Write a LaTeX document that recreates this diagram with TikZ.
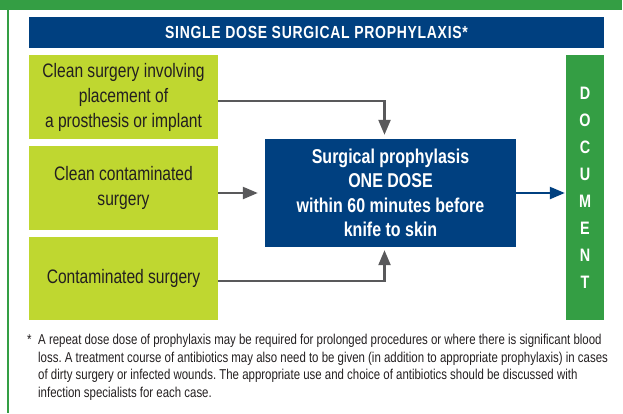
\documentclass[tikz,border=0pt]{standalone}
\usepackage{fontspec}
\setmainfont{Liberation Sans}[FakeStretch=0.8]
\newfontfamily\hdrfont{Liberation Sans}[FakeStretch=0.8, LetterSpace=4]
\usepackage{tikz}
\usetikzlibrary{arrows.meta}

\definecolor{frameGreen}{RGB}{52,158,68}
\definecolor{headBlue}{RGB}{0,64,128}
\definecolor{limeBox}{RGB}{191,215,48}
\definecolor{darkText}{RGB}{35,31,32}
\definecolor{arrowGrey}{RGB}{89,89,91}

\begin{document}
\begin{tikzpicture}[x=1pt, y=-1pt,
  header/.style={fill=headBlue, text=white, minimum width=575pt, minimum height=31pt, inner sep=0pt, font=\hdrfont\bfseries\fontsize{17.5}{20}\selectfont},
  caseBox/.style={fill=limeBox, text=darkText, minimum width=189pt, inner sep=0pt, align=center, font=\fontsize{19.5}{25}\selectfont},
  doseBox/.style={fill=headBlue, text=white, minimum width=251pt, minimum height=108pt, inner sep=0pt, align=center, font=\bfseries\fontsize{20}{24.5}\selectfont},
  docBar/.style={fill=frameGreen, text=white, minimum width=38pt, minimum height=265pt, inner sep=0pt, align=center, font=\bfseries\fontsize{18}{27}\selectfont},
  flowArrow/.style={draw=arrowGrey, line width=2.3pt, -{Triangle[length=15pt, width=12pt]}},
  outArrow/.style={draw=headBlue, line width=2.3pt, -{Triangle[length=15pt, width=12pt]}},
  noteText/.style={text=darkText, inner sep=0pt, align=left, font=\frenchspacing\fontsize{14.3}{17.5}\selectfont}
]
\useasboundingbox (0,0) rectangle (623,413);

\fill[frameGreen] (0,0) rectangle (622,9.5);
\fill[frameGreen] (6.5,0) rectangle (8.5,413);

\node[header] (head) at (316.5,32.5) {SINGLE DOSE SURGICAL PROPHYLAXIS*};

\node[caseBox, minimum height=84pt] (clean) at (123.5,97) {Clean surgery involving\\placement of\\a prosthesis or implant};
\node[caseBox, minimum height=84pt] (cleancont) at (123.5,188) {Clean contaminated\\surgery};
\node[caseBox, minimum height=83pt] (contam) at (123.5,278.5) {Contaminated surgery};

\node[doseBox] (dose) at (390.5,193) {Surgical prophylasis\\ONE DOSE\\within 60 minutes before\\knife to skin};

\node[docBar] (doc) at (585,187.5) {D\\O\\C\\U\\M\\E\\N\\T};

\draw[flowArrow, shorten >=4pt] ([yshift=-4pt]clean.east) -| ([xshift=-6pt]dose.north);
\draw[flowArrow, shorten >=7pt] (cleancont.east |- dose.west) -- (dose.west);
\draw[flowArrow, shorten >=3pt] ([yshift=-2.5pt]contam.east) -| ([xshift=-6pt]dose.south);
\draw[outArrow, shorten >=1pt] (dose.east) -- (doc.west |- dose.east);

\node[noteText, anchor=north west] (star) at (27,334) {*};
\node[noteText, anchor=north west] (note) at (38,334) {A repeat dose dose of prophylaxis may be required for prolonged procedures or where there is significant blood\\loss. A treatment course of antibiotics may also need to be given (in addition to appropriate prophylaxis) in cases\\of dirty surgery or infected wounds. The appropriate use and choice of antibiotics should be discussed with\\infection specialists for each case.};

\end{tikzpicture}
\end{document}
